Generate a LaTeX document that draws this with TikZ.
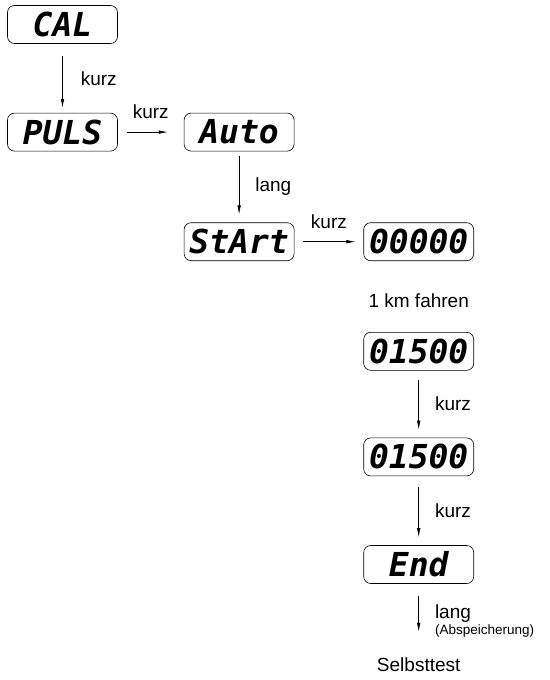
\documentclass[tikz,border=0pt]{standalone}
\usepackage{fontspec}
\setmainfont{Liberation Sans}
\newfontfamily\lcdfont{DejaVu Sans Mono}
\usetikzlibrary{arrows.meta, positioning}

\begin{document}
\begin{tikzpicture}[
    x=1pt, y=1pt,
    node distance=69pt,
    lcd/.style={rectangle, draw, line width=0.6pt, rounded corners=7pt, minimum width=110pt, minimum height=38pt, inner sep=0pt, font=\lcdfont\bfseries\itshape\fontsize{33}{33}\selectfont},
    lbl/.style={font=\fontsize{19}{21}\selectfont, inner sep=0pt},
    arrow/.style={-{Latex[length=9pt,width=3.5pt]}, line width=0.6pt, shorten <=9pt, shorten >=8pt}
]
\useasboundingbox (0,0) rectangle (549,-680);

% Displays
\node[lcd] (cal) at (62.5,-24.5) {CAL};
\node[lcd, below=of cal] (puls) {PULS};
\node[lcd, right=66pt of puls] (aut) {Auto};
\node[lcd, below=71pt of aut] (start) {StArt};
\node[lcd, right=of start] (zero) {00000};
\node[lbl, below=33pt of zero] (drive) {1 km fahren};
\node[lcd, below=71pt of zero] (km) {01500};
\node[lcd, below=67pt of km] (kmok) {01500};
\node[lcd, below=of kmok] (fin) {End};
\node[lbl, below=74pt of fin] (test) {Selbsttest};

% Arrows
\draw[arrow, shorten <=12pt, shorten >=5pt] (cal) -- node[lbl, right=18pt] {kurz} (puls);
\draw[arrow, shorten >=16pt] (puls) -- node[lbl, above=13pt] {kurz} (aut);
\draw[arrow, shorten <=5pt] (aut) -- node[lbl, right=16pt] {lang} (start);
\draw[arrow] (start) -- node[lbl, above=13pt] {kurz} (zero);
\draw[arrow] (km) -- node[lbl, right=16pt] {kurz} (kmok);
\draw[arrow, shorten <=11pt] (kmok) -- node[lbl, right=16pt] {kurz} (fin);
\draw[arrow, shorten <=12pt, shorten >=26pt] (fin) -- node[lbl, right=16pt, align=left] {lang\\[-5pt]{\fontsize{13.5}{15}\selectfont (Abspeicherung)}} (test);

\end{tikzpicture}
\end{document}
